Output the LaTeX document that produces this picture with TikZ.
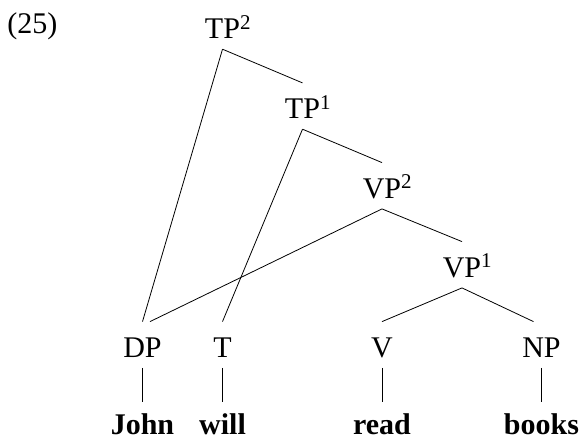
\documentclass[tikz,border=0pt]{standalone}
\usepackage{fontspec}
\setmainfont{Liberation Serif}
\usepackage{tikz}

\begin{document}
\begin{tikzpicture}[x=1pt, y=-1pt, line width=0.8pt,
    cat/.style={font=\fontsize{30}{32}\selectfont, inner sep=0pt, text height=35pt, text depth=10.5pt, anchor=base},
    word/.style={cat, text height=32.5pt, text depth=4pt}]
	\useasboundingbox (0,0) rectangle (583,441);
	\node [font=\fontsize{30}{32}\selectfont, inner sep=0pt, anchor=base west] (exnum) at (7,34) {(25)};
	\node [cat] (tp2) at (222.5,38.3) {TP\rlap{\textsuperscript{2}}};
	\node [cat] (tp1) at (302.5,118.3) {TP\rlap{\textsuperscript{1}}};
	\node [cat] (vp2) at (382,198) {VP\rlap{\textsuperscript{2}}};
	\node [cat] (vp1) at (462,277) {VP\rlap{\textsuperscript{1}}};
	\foreach \name/\x/\label/\word in {dp/142.5/DP/John, t/222.5/T/will, v/382/V/read, np/541.5/NP/books} {
        \node [cat] (\name) at (\x,357) {\label};
        \node [word] (w\name) at (\x,434.5) {\textbf{\word}};
        \draw (\name) -- (w\name);
    }
    \draw (tp2.south) -- (tp1.north);
    \draw (tp2.south) -- (dp.north);
    \draw (tp1.south) -- (vp2.north);
    \draw (tp1.south) -- (t.north);
    \draw (vp2.south) -- (vp1.north);
    \draw (vp2.south) -- ([xshift=7.5pt]dp.north);
    \draw (vp1.south) -- (v.north);
    \draw (vp1.south) -- ([xshift=-8pt]np.north);
\end{tikzpicture}
\end{document}
